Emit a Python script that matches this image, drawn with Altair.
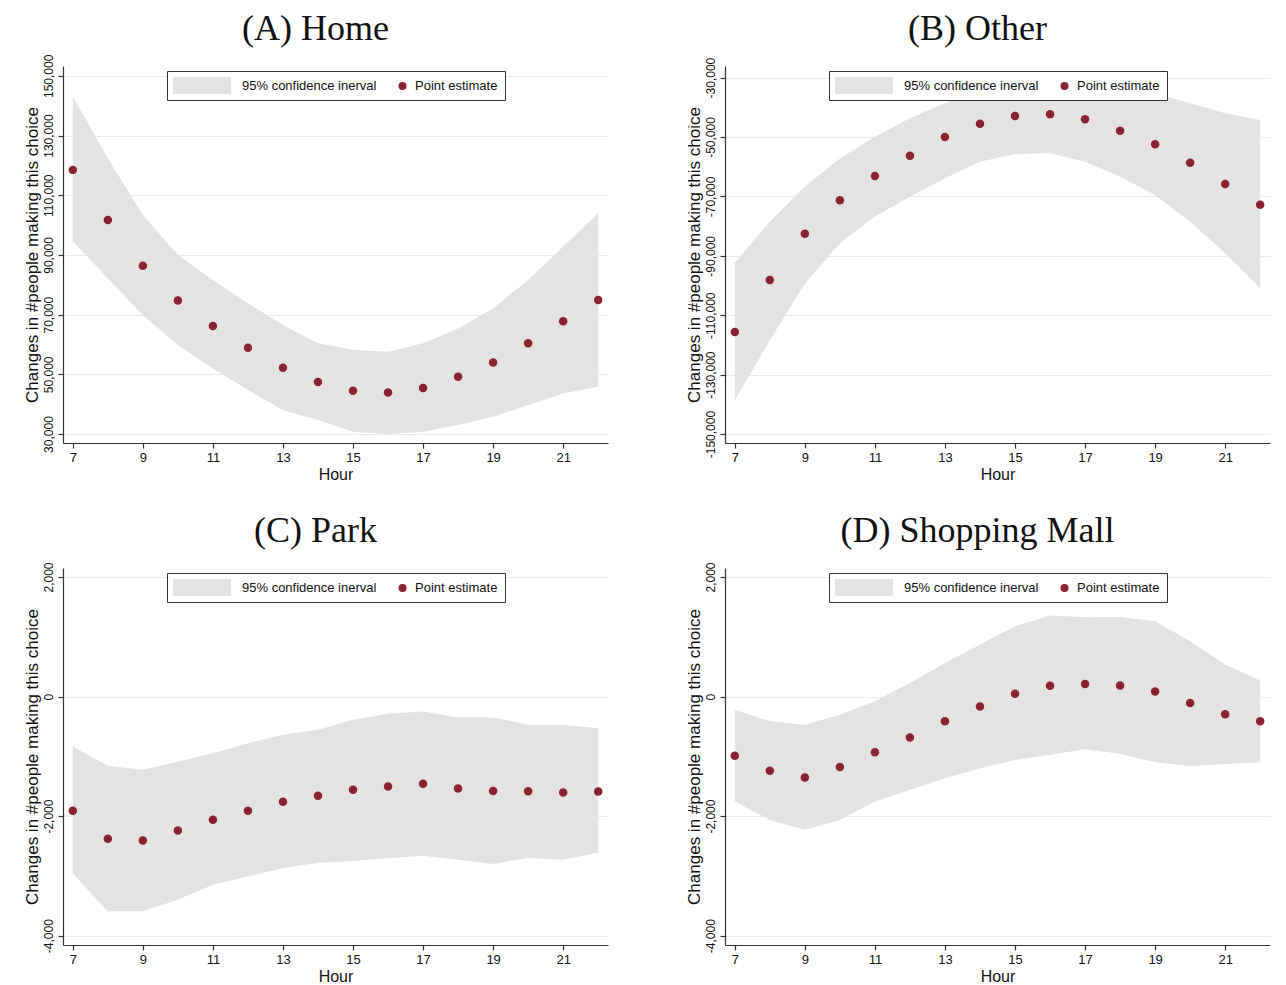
import altair as alt
import pandas as pd

hours = list(range(7, 23))
x_ticks = [7, 9, 11, 13, 15, 17, 19, 21]
ci_label = "95% confidence inerval"
pe_label = "Point estimate"

home_est = [118500, 101700, 86400, 74700, 66200, 58900, 52200, 47400, 44500, 43900, 45400, 49200, 54000, 60400, 67800, 74900]
home_hi = [143100, 122400, 103400, 90000, 81600, 73800, 66500, 60400, 58200, 57600, 60400, 65400, 72100, 81600, 92800, 104000]
home_lo = [94500, 82200, 69900, 59800, 52000, 44800, 38000, 34700, 30800, 30000, 30800, 33000, 35800, 39700, 43600, 45900]
home_ticks = [30000, 50000, 70000, 90000, 110000, 130000, 150000]

other_est = [-115650, -98100, -82600, -71300, -63100, -56300, -50000, -45500, -42900, -42300, -44000, -47900, -52400, -58700, -65800, -72800]
other_hi = [-92300, -78500, -66700, -57200, -49900, -43700, -38600, -34000, -32000, -31000, -31500, -33500, -35300, -38600, -42000, -44300]
other_lo = [-138600, -118400, -99300, -85800, -76800, -70100, -63900, -58300, -55700, -55500, -58300, -63400, -69500, -78500, -89100, -100900]
other_ticks = [-150000, -130000, -110000, -90000, -70000, -50000, -30000]

park_est = [-1910, -2380, -2410, -2240, -2060, -1910, -1760, -1660, -1560, -1505, -1460, -1540, -1580, -1585, -1605, -1590]
park_hi = [-835, -1160, -1225, -1090, -950, -780, -640, -555, -390, -290, -250, -350, -350, -470, -470, -530]
park_lo = [-2960, -3590, -3590, -3400, -3150, -3010, -2870, -2780, -2750, -2705, -2665, -2730, -2800, -2695, -2730, -2610]
small_ticks = [-4000, -2000, 0, 2000]

mall_est = [-990, -1240, -1355, -1180, -930, -685, -415, -165, 45, 180, 210, 185, 85, -110, -295, -415]
mall_hi = [-220, -415, -470, -305, -80, 225, 560, 870, 1175, 1355, 1325, 1330, 1260, 925, 535, 270]
mall_lo = [-1755, -2065, -2230, -2065, -1755, -1560, -1365, -1200, -1060, -975, -880, -955, -1100, -1160, -1130, -1100]

BAND = "#e3e3e3"
RED = "#8b2231"
GRID = "#e4edf2"
SANS = "Liberation Sans"
SERIF = "Liberation Serif"
# swatch symbol (17px slot): a 58x17 rectangle plus an empty sub-path that
# stretches the legend frame so it also encloses the point-estimate entry
SWATCH_PATH = "M-1,-1H5.82V1H-1Z M37.24,0L37.24,0"
W, H = 545, 377


def panel(title, est, lo, hi, ydomain, yticks, toff):
    df = pd.DataFrame({"hour": hours, "est": est, "lo": lo, "hi": hi})
    xscale = alt.Scale(domain=[6.72, 22.28], nice=False, zero=False)
    yscale = alt.Scale(domain=ydomain, nice=False, zero=False)
    xaxis = alt.Axis(values=x_ticks, title="Hour", grid=False, labelFontSize=13,
                     titleFontSize=16, labelPadding=3, titlePadding=2, tickSize=5)
    yaxis = alt.Axis(values=yticks, title="Changes in #people making this choice",
                     grid=True, gridColor=GRID, gridWidth=1.2,
                     labelExpr="replace(format(datum.value, ','), '\u2212', '-')",
                     labelAngle=270, labelAlign="center", labelBaseline="bottom",
                     labelFontSize=12, titleFontSize=17, labelPadding=3,
                     titlePadding=1, tickSize=5)
    band = alt.Chart(df).mark_area(color=BAND, opacity=1).encode(
        x=alt.X("hour:Q", scale=xscale, axis=xaxis),
        y=alt.Y("lo:Q", scale=yscale, axis=yaxis),
        y2="hi:Q",
    )
    pts = alt.Chart(df).mark_circle(size=72, color=RED, opacity=1).encode(
        x=alt.X("hour:Q", scale=xscale, axis=xaxis),
        y=alt.Y("est:Q", scale=yscale, axis=yaxis),
    )
    leg_df = pd.DataFrame({"k1": [ci_label], "k2": [pe_label], "hour": [0], "est": [ydomain[0]]})
    legend1 = alt.Legend(
        orient="none", legendX=104, legendY=5, direction="horizontal",
        title=None, strokeColor="#333", fillColor="white", padding=6,
        labelFont=SANS, labelFontSize=13, labelColor="#111",
        labelOffset=52, symbolSize=289, symbolType=SWATCH_PATH, symbolStrokeWidth=0,
        labelLimit=0, symbolOpacity=1, zindex=1,
    )
    legend2 = alt.Legend(
        orient="none", legendX=333, legendY=13.5, direction="horizontal",
        title=None, padding=0,
        labelFont=SANS, labelFontSize=13, labelColor="#111",
        labelOffset=6, symbolSize=64, symbolType="circle", symbolStrokeWidth=0,
        labelLimit=0, symbolOpacity=1, zindex=2,
    )
    leg1 = alt.Chart(leg_df).mark_point(filled=True, clip=True, opacity=1).encode(
        x=alt.X("hour:Q", scale=xscale, axis=xaxis),
        y=alt.Y("est:Q", scale=yscale, axis=yaxis),
        color=alt.Color("k1:N", scale=alt.Scale(domain=[ci_label], range=[BAND]), legend=legend1),
    )
    leg2 = alt.Chart(leg_df).mark_point(filled=True, clip=True, opacity=1).encode(
        x=alt.X("hour:Q", scale=xscale, axis=xaxis),
        y=alt.Y("est:Q", scale=yscale, axis=yaxis),
        fill=alt.Fill("k2:N", scale=alt.Scale(domain=[pe_label], range=[RED]), legend=legend2),
    )
    return alt.layer(band, pts, leg1, leg2).properties(
        width=W, height=H,
        title=alt.Title(title, font=SERIF, fontSize=36, fontWeight="normal",
                        color="#111", anchor="middle", frame="bounds", offset=toff),
    )


A = panel("(A) Home", home_est, home_lo, home_hi, [27000, 153300], home_ticks, 6)
B = panel("(B) Other", other_est, other_lo, other_hi, [-153000, -26100], other_ticks, 9)
C = panel("(C) Park", park_est, park_lo, park_hi, [-4156, 2150], small_ticks, 12)
D = panel("(D) Shopping Mall", mall_est, mall_lo, mall_hi, [-4156, 2150], small_ticks, 12)

ind = dict(color="independent", fill="independent", x="independent", y="independent")
indl = dict(color="independent", fill="independent")
row1 = alt.hconcat(A, B, spacing=77).resolve_scale(**ind).resolve_legend(**indl)
row2 = alt.hconcat(C, D, spacing=77).resolve_scale(**ind).resolve_legend(**indl)

chart = alt.vconcat(row1, row2, spacing=30).resolve_scale(**ind).resolve_legend(**indl).properties(
    padding={"left": 14, "top": 3, "right": 5, "bottom": 5},
    background="white",
).configure_view(stroke=None).configure_axis(
    domainColor="#333", tickColor="#333", domainWidth=1.2, tickWidth=1.2,
    labelColor="#111", titleColor="#111", labelFont=SANS, titleFont=SANS,
    titleFontWeight="normal",
)

chart.save("out.html", embed_options={"renderer": "svg", "actions": False})
